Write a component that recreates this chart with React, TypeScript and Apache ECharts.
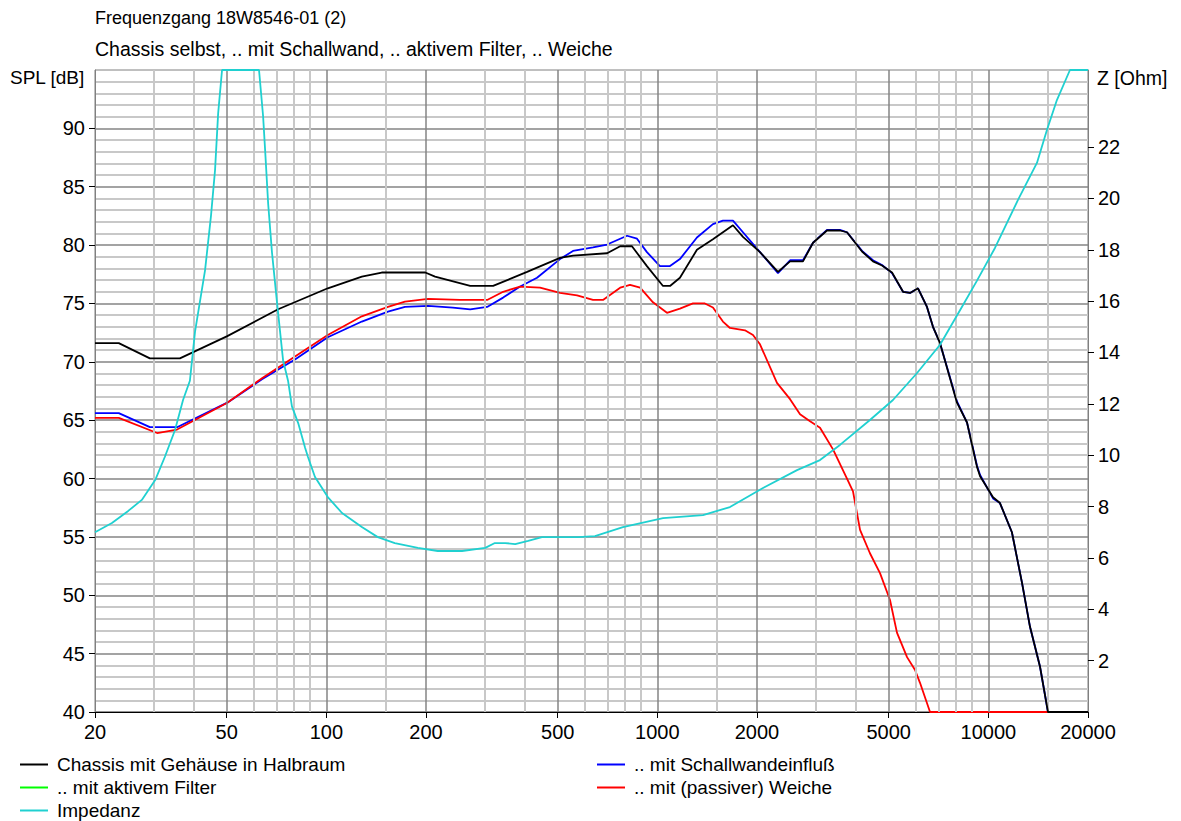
import React, { useEffect, useRef } from "react";
import * as echarts from "echarts";

const FONT = "'Liberation Sans', Arial, sans-serif";

const majorFreqs = [20, 50, 100, 200, 500, 1000, 2000, 5000, 10000, 20000];
const minorFreqs = [30, 40, 60, 70, 80, 90, 150, 300, 400, 600, 700, 800, 900, 1500, 3000, 4000, 6000, 7000, 8000, 9000, 15000];
const splTicks = [40, 45, 50, 55, 60, 65, 70, 75, 80, 85, 90];
const zTicks = [2, 4, 6, 8, 10, 12, 14, 16, 18, 20, 22];

const legendLeft = ["Chassis mit Gehäuse in Halbraum", ".. mit aktivem Filter", "Impedanz"];
const legendRight = [".. mit Schallwandeinfluß", ".. mit (passiver) Weiche"];

// Chassis mit Gehäuse in Halbraum (black)
const freqBlack = [20, 23.6, 29.3, 36.1, 50.2, 71.5, 101, 128, 147, 199, 213, 272, 319, 404, 508, 556, 705, 772, 838, 930, 1040, 1092, 1170, 1317, 1472, 1692, 1814, 2042, 2314, 2517, 2754, 2953, 3254, 3562, 3740, 4153, 4482, 4772, 5116, 5524, 5800, 6130, 6525, 6803, 7145, 8040, 8620, 9240, 9440, 10330, 10840, 11780, 12630, 13360, 14320, 15140, 20000];
const splBlack = [71.6, 71.6, 70.3, 70.3, 72.2, 74.5, 76.3, 77.3, 77.65, 77.65, 77.3, 76.5, 76.5, 77.7, 78.9, 79.1, 79.3, 79.9, 79.9, 78.2, 76.5, 76.5, 77.2, 79.6, 80.5, 81.7, 80.7, 79.4, 77.7, 78.6, 78.6, 80.2, 81.25, 81.25, 81.1, 79.45, 78.6, 78.25, 77.65, 76.0, 75.9, 76.3, 74.7, 73.0, 71.6, 66.5, 64.8, 61.0, 60.2, 58.4, 57.9, 55.4, 51.1, 47.3, 43.9, 40.0, 40.0];

// .. mit Schallwandeinfluß (blue)
const freqBlue = [20, 23.6, 29.3, 35.4, 50.2, 63.9, 80.4, 101, 128, 153.5, 172.8, 203, 241, 272, 306, 342, 385, 433, 508, 556, 639, 705, 810, 868, 930, 1018, 1092, 1170, 1317, 1472, 1578, 1692, 1814, 2042, 2314, 2517, 2754, 2953, 3254, 3562, 3740, 4153, 4482, 4772, 5116, 5524, 5800, 6130, 6525, 6803, 7145, 8040, 8620, 9240, 9440, 10330, 10840, 11780, 12630, 13360, 14320, 15140, 20000];
const splBlue = [65.6, 65.6, 64.4, 64.4, 66.5, 68.5, 70.2, 72.1, 73.45, 74.3, 74.7, 74.8, 74.65, 74.5, 74.7, 75.5, 76.45, 77.2, 78.8, 79.5, 79.8, 80.05, 80.8, 80.55, 79.4, 78.2, 78.2, 78.8, 80.65, 81.8, 82.1, 82.1, 81.1, 79.4, 77.6, 78.7, 78.7, 80.2, 81.3, 81.3, 81.1, 79.5, 78.7, 78.3, 77.6, 76.0, 75.9, 76.3, 74.7, 73.0, 71.6, 66.6, 64.8, 61.1, 60.3, 58.3, 57.9, 55.4, 51.1, 47.3, 43.9, 40.0, 40.0];

// .. mit aktivem Filter (green) – not visible in the plot
const freqGreen: number[] = [];
const splGreen: number[] = [];

// .. mit (passiver) Weiche (red)
const freqRed = [20, 23.6, 30.8, 35.4, 50.2, 63.9, 80.4, 101, 128, 153.5, 172.8, 203, 253, 306, 342, 385, 442, 508, 572, 639, 685, 772, 827, 887, 970, 1069, 1170, 1281, 1392, 1472, 1578, 1657, 1839, 1945, 2042, 2298, 2517, 2698, 2892, 3100, 3394, 3740, 3900, 4096, 4388, 4706, 5045, 5295, 5680, 6005, 6216, 6665, 20000];
const splRed = [65.2, 65.2, 63.9, 64.2, 66.5, 68.6, 70.45, 72.3, 73.9, 74.7, 75.15, 75.4, 75.3, 75.3, 76.0, 76.45, 76.35, 75.9, 75.7, 75.3, 75.3, 76.35, 76.6, 76.35, 75.1, 74.2, 74.55, 75.0, 75.0, 74.65, 73.45, 72.9, 72.7, 72.3, 71.5, 68.2, 66.8, 65.5, 64.9, 64.35, 62.5, 60.0, 58.9, 55.6, 53.6, 51.9, 49.6, 46.8, 44.7, 43.6, 42.5, 40.0, 40.0];

// Impedanz (cyan), right axis
const freqZ = [20, 22.5, 25.2, 27.7, 30.4, 32.5, 34.9, 36.9, 38.7, 40.1, 43.0, 44.8, 46.1, 47.1, 48.4, 62.6, 64.4, 65.3, 66.7, 68.5, 71.0, 74.0, 76.6, 78.7, 82.2, 86.2, 88.0, 92.4, 101, 111.5, 128, 143, 161, 189, 217, 257, 302, 323, 347, 372, 407, 448, 576, 648, 787, 1040, 1374, 1657, 2085, 2642, 3100, 3562, 4388, 5150, 6090, 7145, 8385, 9240, 10470, 12290, 14020, 15030, 16110, 17640, 20000];
const ohmZ = [7.0, 7.36, 7.83, 8.26, 9.03, 9.93, 10.98, 12.15, 12.9, 14.8, 17.2, 19.3, 21.1, 23.3, 25, 25, 23.2, 21.9, 19.8, 17.9, 15.9, 13.7, 12.9, 11.9, 11.25, 10.3, 9.93, 9.15, 8.37, 7.75, 7.2, 6.81, 6.58, 6.39, 6.27, 6.27, 6.39, 6.58, 6.58, 6.54, 6.66, 6.81, 6.81, 6.85, 7.2, 7.55, 7.67, 7.98, 8.72, 9.42, 9.81, 10.4, 11.37, 12.15, 13.2, 14.3, 15.85, 16.8, 18.07, 19.94, 21.38, 22.66, 23.83, 25, 25];

const lg = (f: number) => Math.log10(f);
const pairs = (fs: number[], vs: number[]) => fs.map((f, i) => [lg(f), vs[i]]);

const MINOR = "#c8c8c8";
const MAJOR = "#858585";

export default function App() {
  const ref = useRef<HTMLDivElement>(null);
  useEffect(() => {
    if (!ref.current) return;
    const chart = echarts.init(ref.current, undefined, { renderer: "svg" });
    const lineSeries = (name: string, data: number[][], color: string, z: number, yAxisIndex = 0) => ({
      name,
      type: "line",
      data,
      yAxisIndex,
      symbol: "none",
      showSymbol: false,
      color,
      lineStyle: { color, width: 1.8 },
      z,
      silent: true,
      emphasis: { disabled: true },
    });
    const legendCommon = {
      orient: "vertical",
      icon: "rect",
      itemWidth: 28,
      itemHeight: 2,
      itemGap: 2,
      padding: 0,
      selectedMode: false,
      textStyle: { fontSize: 19, color: "#000", fontFamily: FONT, lineHeight: 21, padding: [0, 0, 0, 4] },
    };
    chart.setOption({
      animation: false,
      backgroundColor: "#fff",
      textStyle: { fontFamily: FONT },
      title: [
        { text: "Frequenzgang 18W8546-01 (2)", left: 95, top: 9, padding: 0, textStyle: { fontSize: 18, fontWeight: "normal", color: "#000", fontFamily: FONT } },
        { text: "Chassis selbst, .. mit Schallwand, .. aktivem Filter, .. Weiche", left: 95, top: 39, padding: 0, textStyle: { fontSize: 19.5, fontWeight: "normal", color: "#000", fontFamily: FONT } },
      ],
      grid: { left: 95, top: 70, width: 993, height: 642, show: true, borderColor: "#808080", borderWidth: 1, backgroundColor: "transparent", containLabel: false },
      legend: [
        { ...legendCommon, data: legendLeft, left: 20, top: 754 },
        { ...legendCommon, data: legendRight, left: 597, top: 754 },
      ],
      xAxis: {
        type: "value",
        min: lg(20),
        max: lg(20000),
        axisLine: { show: true, onZero: false, lineStyle: { color: "#000" } },
        axisTick: { show: true, customValues: majorFreqs.map(lg), length: 6, lineStyle: { color: "#000" } },
        axisLabel: { customValues: majorFreqs.map(lg), formatter: (v: number) => String(Math.round(Math.pow(10, v))), fontSize: 20, color: "#000", margin: 10, fontFamily: FONT },
        splitLine: { show: false },
      },
      yAxis: [
        {
          type: "value",
          min: 40,
          max: 95,
          interval: 5,
          position: "left",
          axisLine: { show: true, lineStyle: { color: "#808080" } },
          axisTick: { show: true, customValues: splTicks, length: 6, lineStyle: { color: "#000" } },
          axisLabel: { customValues: splTicks, fontSize: 20, color: "#000", margin: 10, fontFamily: FONT },
          splitLine: { show: true, lineStyle: { color: MAJOR, width: 1.5 } },
          minorTick: { show: false, splitNumber: 5 },
          minorSplitLine: { show: true, lineStyle: { color: MINOR, width: 2 } },
        },
        {
          type: "value",
          min: 0,
          max: 25,
          position: "right",
          axisLine: { show: true, lineStyle: { color: "#808080" } },
          axisTick: { show: true, customValues: zTicks, length: 6, lineStyle: { color: "#000" } },
          axisLabel: { customValues: zTicks, fontSize: 20, color: "#000", margin: 10, fontFamily: FONT },
          splitLine: { show: false },
        },
      ],
      graphic: [
        { type: "text", left: 10, top: 68, style: { text: "SPL [dB]", fontSize: 19, fill: "#000", fontFamily: FONT } },
        { type: "text", left: 1097, top: 68, style: { text: "Z [Ohm]", fontSize: 19.5, fill: "#000", fontFamily: FONT } },
      ],
      series: [
        {
          name: "grid",
          type: "line",
          data: [],
          z: 1,
          silent: true,
          markLine: {
            silent: true,
            symbol: ["none", "none"],
            label: { show: false },
            emphasis: { disabled: true },
            data: [
              ...minorFreqs.map((f) => ({ xAxis: lg(f), lineStyle: { color: MINOR, width: 2, type: "solid" } })),
              ...majorFreqs.slice(1, -1).map((f) => ({ xAxis: lg(f), lineStyle: { color: MAJOR, width: 1.5, type: "solid" } })),
            ],
          },
        },
        lineSeries(".. mit aktivem Filter", pairs(freqGreen, splGreen), "#00ff00", 2),
        lineSeries(".. mit Schallwandeinfluß", pairs(freqBlue, splBlue), "#0000ff", 3),
        lineSeries(".. mit (passiver) Weiche", pairs(freqRed, splRed), "#ff0000", 4),
        lineSeries("Chassis mit Gehäuse in Halbraum", pairs(freqBlack, splBlack), "#000000", 5),
        lineSeries("Impedanz", pairs(freqZ, ohmZ), "#20d0d0", 6, 1),
      ],
    });
    return () => chart.dispose();
  }, []);
  return <div ref={ref} style={{ position: "fixed", left: 0, top: 0, width: 1181, height: 821, background: "#fff" }} />;
}
